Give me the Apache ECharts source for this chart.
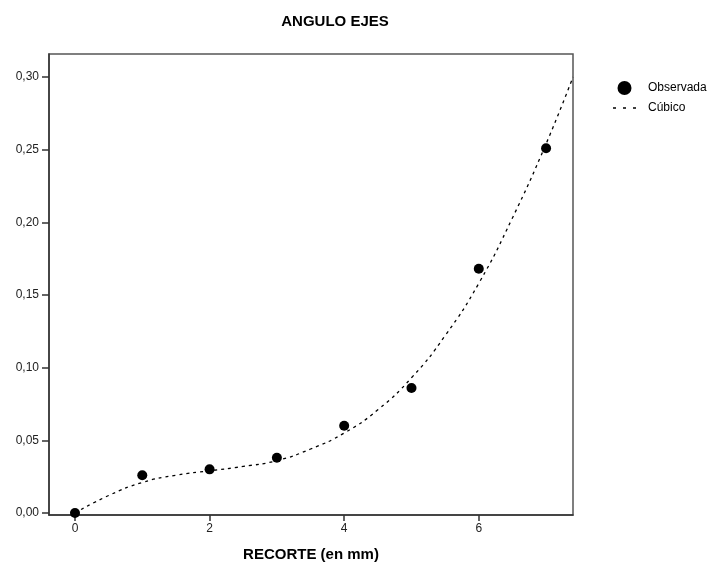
<!DOCTYPE html>
<html>
<head>
<meta charset="utf-8">
<script src="https://cdn.jsdelivr.net/npm/echarts@6/dist/echarts.min.js"></script>
<style>
  html, body { margin: 0; padding: 0; background: #fff; }
  #chart { width: 713px; height: 567px; }
</style>
</head>
<body>
<div id="chart"></div>
<script>
// datos observados
const recorte = [0, 1, 2, 3, 4, 5, 6, 7]
const observada = [0.000, 0.026, 0.030, 0.038, 0.060, 0.086, 0.168, 0.251]

// curva cubica
const cubicoX = [0, 0.5, 1, 1.5, 2, 2.5, 3, 3.5, 4, 4.5, 5, 5.5, 6, 6.5, 7, 7.4]
const cubicoY = [0.000, 0.012, 0.021, 0.026, 0.029, 0.032, 0.036, 0.044, 0.055, 0.071, 0.093, 0.122, 0.158, 0.203, 0.254, 0.300]

const yTicks = [0, 0.05, 0.10, 0.15, 0.20, 0.25, 0.30]
const xTicks = [0, 2, 4, 6]

const fmt = v => v.toFixed(2).replace('.', ',')

// icono de leyenda: tres guiones (caja 25x14)
const dashIcon = 'path://M0,0h0.01v0.01h-0.01z M1,6.3h3v1.4h-3z M11,6.3h3v1.4h-3z M21,6.3h3v1.4h-3z M24.99,13.99h0.01v0.01h-0.01z'

const chart = echarts.init(document.getElementById('chart'))

const option = {
    backgroundColor: '#fff',
    animation: false,
    title: {
        text: 'ANGULO EJES',
        left: 330,
        top: 9,
        textAlign: 'center',
        textStyle: {
            fontFamily: 'Liberation Sans',
            fontSize: 15,
            fontWeight: 'bold',
            color: '#000'
        }
    },
    legend: {
        orient: 'vertical',
        left: 612,
        top: 81,
        padding: 0,
        itemWidth: 25,
        itemHeight: 14,
        itemGap: 6,
        textStyle: {
            fontFamily: 'Liberation Sans',
            fontSize: 12,
            color: '#000',
            padding: [0, 0, 0, 6]
        },
        data: [
            { name: 'Observada', icon: 'circle', itemStyle: { color: '#000', opacity: 1 } },
            { name: 'Cúbico', icon: dashIcon, itemStyle: { color: '#000', opacity: 1 } }
        ]
    },
    grid: {
        left: 49,
        top: 54,
        right: 140,
        bottom: 52,
        show: true,
        borderColor: '#555',
        borderWidth: 1.5,
        backgroundColor: 'transparent'
    },
    xAxis: {
        type: 'value',
        min: -0.386,
        max: 7.4,
        name: 'RECORTE (en mm)',
        nameLocation: 'middle',
        nameGap: 32,
        nameTextStyle: {
            fontFamily: 'Liberation Sans',
            fontSize: 15,
            fontWeight: 'bold',
            color: '#000'
        },
        splitLine: { show: false },
        axisLine: { show: true, onZero: false, lineStyle: { color: '#333', width: 1.5 } },
        axisTick: {
            show: true,
            length: 6,
            customValues: xTicks,
            lineStyle: { color: '#333', width: 1.5 }
        },
        axisLabel: {
            customValues: xTicks,
            margin: 8,
            fontFamily: 'Liberation Sans',
            fontSize: 12,
            color: '#222'
        }
    },
    yAxis: {
        type: 'value',
        min: -0.0014,
        max: 0.3158,
        splitLine: { show: false },
        axisLine: { show: true, onZero: false, lineStyle: { color: '#333', width: 1.5 } },
        axisTick: {
            show: true,
            length: 7,
            customValues: yTicks,
            lineStyle: { color: '#333', width: 1.5 }
        },
        axisLabel: {
            customValues: yTicks,
            margin: 10,
            formatter: v => fmt(v),
            fontFamily: 'Liberation Sans',
            fontSize: 12,
            color: '#222'
        }
    },
    series: [
        {
            name: 'Observada',
            type: 'scatter',
            symbol: 'circle',
            symbolSize: 10,
            itemStyle: { color: '#000', opacity: 1 },
            data: recorte.map((x, i) => [x, observada[i]]),
            z: 3
        },
        {
            name: 'Cúbico',
            type: 'line',
            smooth: true,
            symbol: 'none',
            showSymbol: false,
            lineStyle: { color: '#000', width: 1.3, type: [3, 4] },
            itemStyle: { color: '#000' },
            data: cubicoX.map((x, i) => [x, cubicoY[i]]),
            z: 2
        }
    ]
}

chart.setOption(option)
</script>
</body>
</html>
